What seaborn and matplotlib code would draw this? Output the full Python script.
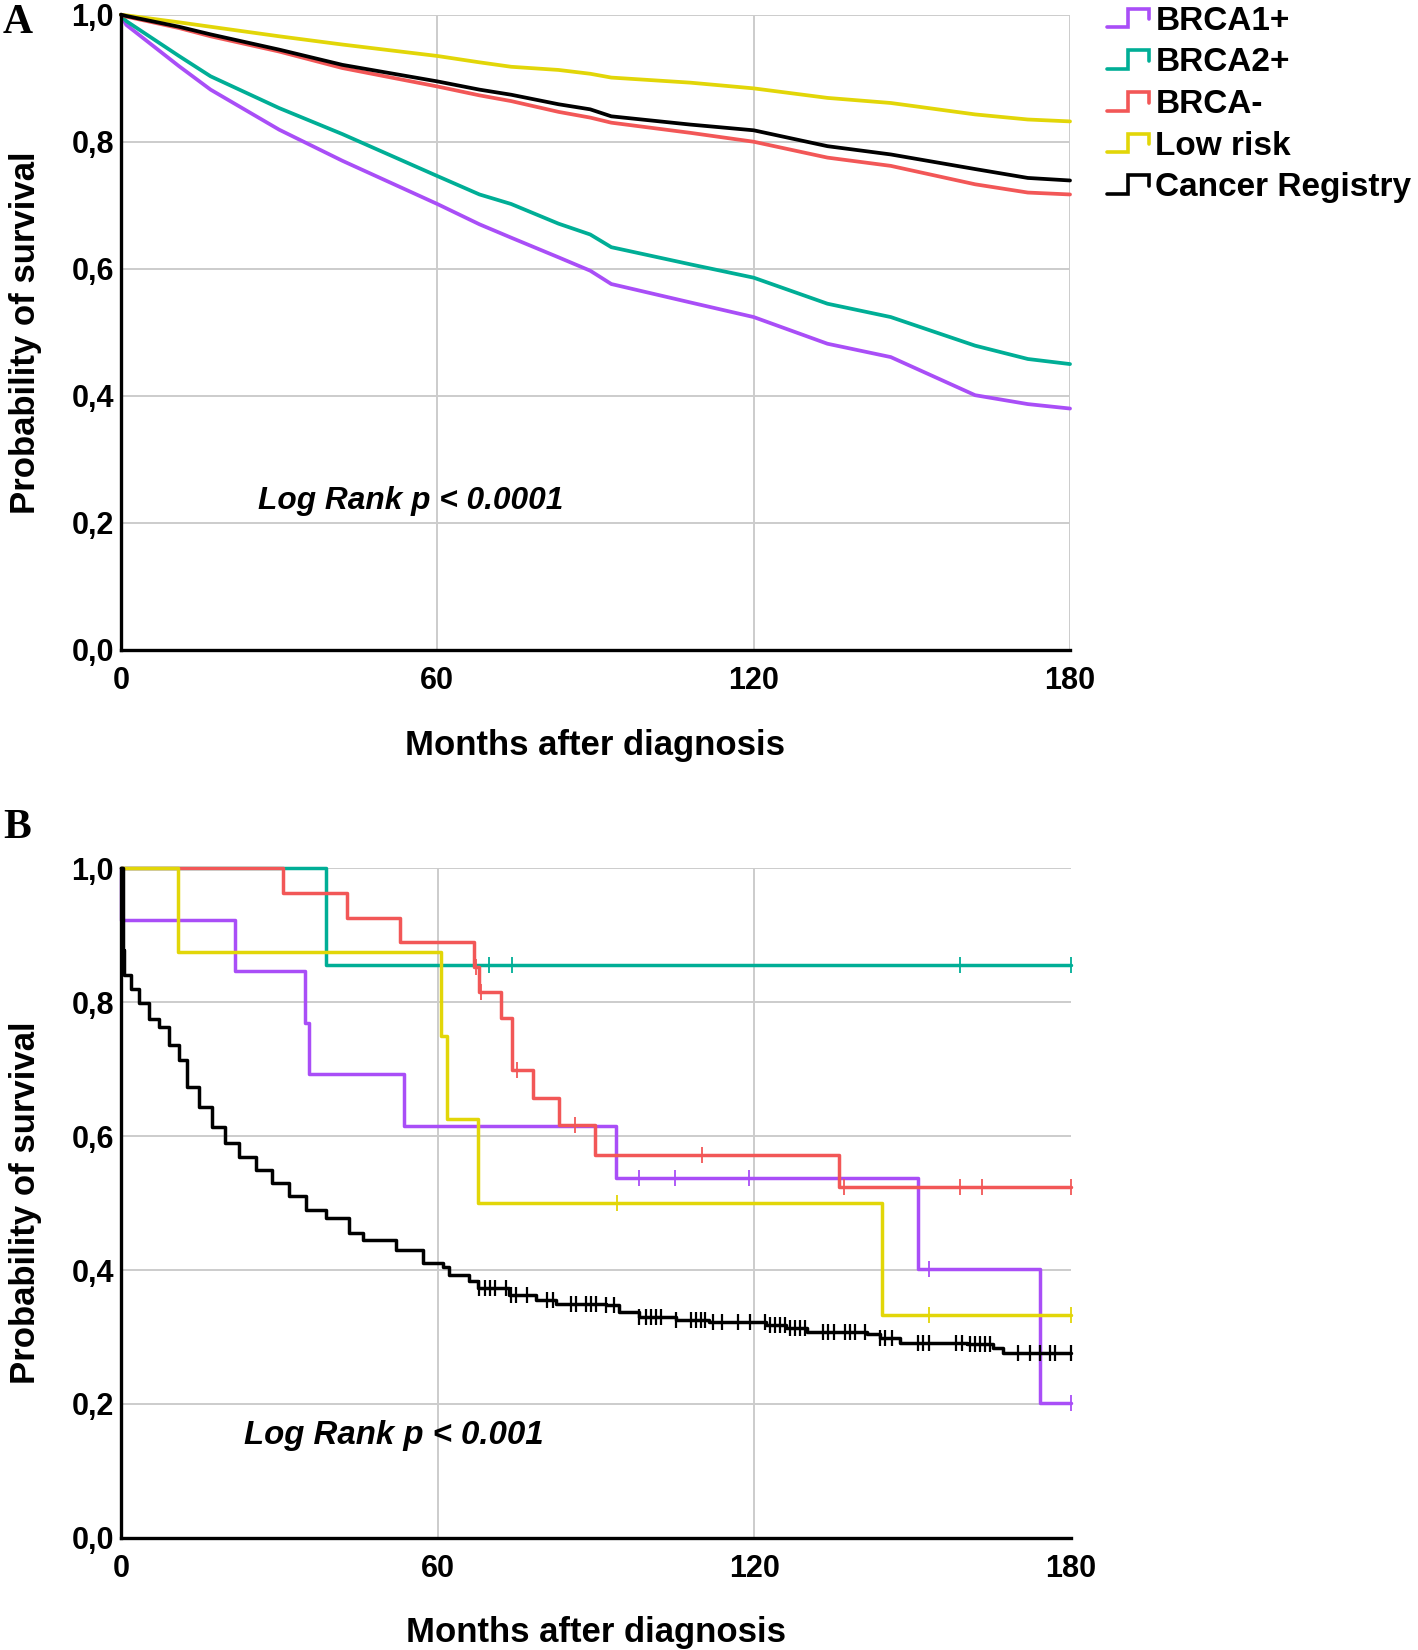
import numpy as np
import pandas as pd
import matplotlib
matplotlib.use('Agg')
import matplotlib.pyplot as plt
import seaborn as sns
from matplotlib.lines import Line2D
from matplotlib.legend_handler import HandlerBase

sns.set_style('white')
plt.rcParams['font.family'] = ['Liberation Sans', 'DejaVu Sans']
plt.rcParams['font.weight'] = 'bold'
for key in ['text.color', 'axes.labelcolor', 'xtick.color', 'ytick.color']:
    plt.rcParams[key] = 'black'

groups = ['BRCA1+', 'BRCA2+', 'BRCA-', 'Low risk', 'Cancer Registry']
colors = ['#a94ef7', '#00ae96', '#f25757', '#e2d608', '#000000']

# Panel A - survival read at these months
months_a = [0, 1, 11, 17, 30, 42, 60, 68, 74, 83, 89, 93, 108, 120, 134, 146, 162, 172, 180]
brca1_a = [1.0, 0.984, 0.919, 0.882, 0.819, 0.770, 0.702, 0.670, 0.649, 0.618, 0.597, 0.576,
           0.547, 0.524, 0.482, 0.461, 0.401, 0.387, 0.380]
brca2_a = [1.0, 0.990, 0.935, 0.903, 0.853, 0.812, 0.746, 0.717, 0.702, 0.671, 0.654, 0.634,
           0.607, 0.586, 0.545, 0.524, 0.479, 0.458, 0.450]
brcaneg_a = [1.0, 0.997, 0.979, 0.966, 0.942, 0.916, 0.887, 0.873, 0.864, 0.847, 0.838, 0.830,
             0.814, 0.800, 0.775, 0.762, 0.733, 0.720, 0.717]
lowrisk_a = [1.0, 0.999, 0.988, 0.981, 0.966, 0.953, 0.935, 0.925, 0.918, 0.913, 0.907, 0.901,
             0.893, 0.884, 0.869, 0.861, 0.843, 0.835, 0.832]
registry_a = [1.0, 0.998, 0.981, 0.969, 0.945, 0.921, 0.895, 0.882, 0.874, 0.859, 0.851, 0.840,
              0.827, 0.818, 0.793, 0.780, 0.757, 0.743, 0.739]

# Panel B - Kaplan-Meier steps (time, survival after step) and censored times
brca1_t = [0, 0, 21.7, 34.8, 35.7, 53.7, 93.8, 151, 174.1, 180]
brca1_s = [1.0, 0.922, 0.846, 0.769, 0.693, 0.615, 0.538, 0.402, 0.201, 0.201]
brca1_c = [98.2, 105, 119, 153, 180]

brca2_t = [0, 38.9, 180]
brca2_s = [1.0, 0.856, 0.856]
brca2_c = [69.8, 74, 159, 180]

brcaneg_t = [0, 30.7, 42.8, 52.9, 66.9, 67.9, 72, 74, 78, 82.9, 89.9, 136.1, 180]
brcaneg_s = [1.0, 0.963, 0.926, 0.889, 0.853, 0.815, 0.776, 0.699, 0.657, 0.617, 0.572, 0.524, 0.524]
brcaneg_c = [67.3, 68.3, 75, 86, 110, 137, 159, 163.2, 180]

lowrisk_t = [0, 10.9, 60.7, 61.8, 67.6, 144.1, 180]
lowrisk_s = [1.0, 0.875, 0.75, 0.625, 0.5, 0.333, 0.333]
lowrisk_c = [94, 153, 180]

registry_t = [0, 0.3, 0.6, 1.9, 3.5, 5.4, 7.2, 9.1, 11, 12.6, 14.8, 17.3, 19.8, 22.4, 25.5, 28.7,
              31.8, 35, 38.8, 43.3, 45.8, 52.1, 57.2, 61, 62.2, 66, 67.6, 73.6, 78.6, 82.4, 91.9,
              94.4, 98.2, 105.1, 111.5, 122.3, 126, 130, 141.3, 143.8, 147.6, 160.2, 165.3, 167.2, 180]
registry_s = [1.0, 0.878, 0.840, 0.820, 0.798, 0.775, 0.763, 0.736, 0.713, 0.673, 0.644, 0.614,
              0.589, 0.569, 0.549, 0.530, 0.510, 0.490, 0.478, 0.455, 0.445, 0.430, 0.410, 0.405,
              0.393, 0.383, 0.373, 0.363, 0.355, 0.350, 0.348, 0.338, 0.330, 0.325, 0.323, 0.318,
              0.313, 0.308, 0.305, 0.298, 0.291, 0.290, 0.283, 0.276, 0.276]
registry_c = [67.9, 68.9, 69.9, 70.8, 72.9, 73.9, 74.8, 77, 80.8, 81.8, 85.3, 86.2, 88.1, 89, 90,
              91.9, 93.5, 98.2, 99.5, 100.4, 101.4, 102.3, 105.1, 108, 108.9, 109.9, 110.6, 112.2,
              113.8, 117, 119.2, 122, 123, 124, 124.9, 125.8, 126.8, 127.7, 128.6, 129.6, 133, 134,
              135, 137.2, 138.1, 139.1, 141, 143.8, 144.7, 146, 151, 152, 153, 158.3, 159.3, 160.8,
              161.8, 162.7, 163.7, 164.6, 170, 172.2, 174.1, 176, 176.9, 180]

yticks = [0, 0.2, 0.4, 0.6, 0.8, 1.0]
ytick_labels = ['0,0', '0,2', '0,4', '0,6', '0,8', '1,0']
xticks = [0, 60, 120, 180]

df_a = pd.concat([pd.DataFrame({'month': months_a, 'surv': v, 'group': g})
                  for g, v in zip(groups, [brca1_a, brca2_a, brcaneg_a, lowrisk_a, registry_a])])
steps_b = [(brca1_t, brca1_s, brca1_c), (brca2_t, brca2_s, brca2_c), (brcaneg_t, brcaneg_s, brcaneg_c),
           (lowrisk_t, lowrisk_s, lowrisk_c), (registry_t, registry_s, registry_c)]
df_b = pd.concat([pd.DataFrame({'month': t, 'surv': s, 'group': g})
                  for g, (t, s, c) in zip(groups, steps_b)])

fig = plt.figure(figsize=(14.18, 16.5), dpi=100)
ax_a = fig.add_axes([0.0853, 0.6061, 0.6693, 0.3850])
ax_b = fig.add_axes([0.0853, 0.0679, 0.6700, 0.4060])


def style_axes(ax, xlab_y):
    ax.set_xlim(0, 180)
    ax.set_ylim(0, 1.0)
    ax.set_xticks(xticks)
    ax.set_yticks(yticks)
    ax.set_yticklabels(ytick_labels)
    ax.tick_params(length=0, labelsize=22)
    ax.tick_params(axis='x', pad=11.5)
    ax.tick_params(axis='y', pad=5)
    for lab in ax.get_xticklabels() + ax.get_yticklabels():
        lab.set_fontweight('bold')
    ax.grid(True, color='#cccccc', lw=1.4)
    ax.set_axisbelow(True)
    for side in ['top', 'right']:
        ax.spines[side].set_visible(False)
    for side in ['left', 'bottom']:
        ax.spines[side].set_linewidth(2.4)
        ax.spines[side].set_color('black')
        ax.spines[side].set_zorder(5)
    ax.set_xlabel('Months after diagnosis', fontsize=25, fontweight='bold', va='center')
    ax.set_ylabel('Probability of survival', fontsize=25, fontweight='bold', va='center')
    ax.xaxis.set_label_coords(0.5, xlab_y)
    ax.yaxis.set_label_coords(-0.1001, 0.5)


palette = dict(zip(groups, colors))

sns.lineplot(data=df_a, x='month', y='surv', hue='group', hue_order=groups, palette=palette,
             estimator=None, sort=False, lw=2.7, legend=False, ax=ax_a, clip_on=False)
style_axes(ax_a, -0.1505)
ax_a.text(26, 0.235, 'Log Rank p < 0.0001', fontsize=22.8, fontweight='bold', style='italic',
          va='center', ha='left')

sns.lineplot(data=df_b, x='month', y='surv', hue='group', hue_order=groups, palette=palette,
             estimator=None, sort=False, lw=2.5, legend=False, ax=ax_b, clip_on=False,
             drawstyle='steps-post')
for (t, s, c), col in zip(steps_b, colors):
    t = np.array(t)
    idx = np.searchsorted(t, c, side='right') - 1
    lev = np.array(s)[idx]
    ax_b.plot(c, lev, ls='none', marker='|', ms=11, mew=1.6 if col == '#000000' else 1.3,
              color=col, clip_on=False, zorder=3)
style_axes(ax_b, -0.1405)
# no vertical grid line at 180 in panel B
ax_b.get_xgridlines()[-1].set_visible(False)
ax_b.text(23.3, 0.153, 'Log Rank p < 0.001', fontsize=23.8, fontweight='bold', style='italic',
          va='center', ha='left')


class StepHandler(HandlerBase):
    def create_artists(self, legend, orig_handle, xdescent, ydescent, width, height, fontsize, trans):
        x = np.array([0, 0.5, 0.5, 1.0, 1.0]) * width - xdescent
        y = np.array([0.1, 0.1, 0.9, 0.9, 0.45]) * height - ydescent
        ln = Line2D(x, y, color=orig_handle.get_color(), lw=2.6, transform=trans,
                    solid_joinstyle='miter')
        return [ln]


handles = [Line2D([], [], color=c) for c in colors]
fig.legend(handles, groups, loc='upper left', bbox_to_anchor=(0.7807, 0.9965), frameon=False,
           prop={'weight': 'bold', 'size': 24}, handlelength=1.25, handletextpad=0.2,
           labelspacing=0.32, borderpad=0, borderaxespad=0,
           handler_map={Line2D: StepHandler()})

fig.text(0.002, 1 - 33 / 1650, 'A', family='Liberation Serif', fontweight='bold', fontsize=30,
         va='baseline')
fig.text(0.002, 1 - 838 / 1650, 'B', family='Liberation Serif', fontweight='bold', fontsize=30,
         va='baseline')

fig.savefig('out.png', dpi=100, facecolor='white')
